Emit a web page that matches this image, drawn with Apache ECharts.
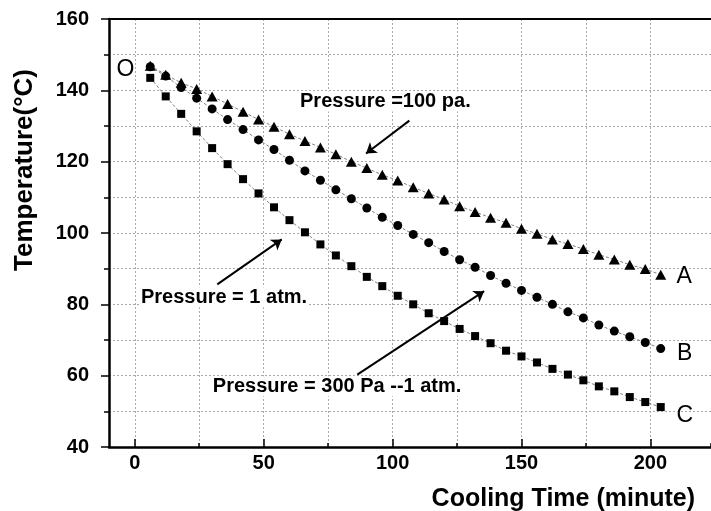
<!DOCTYPE html>
<html>
<head>
<meta charset="utf-8">
<script src="https://cdn.jsdelivr.net/npm/echarts@6/dist/echarts.min.js"></script>
<style>
html,body{margin:0;padding:0;background:#fff;}
#chart{width:711px;height:511px;}
</style>
</head>
<body>
<div id="chart"></div>
<script>
// ---- data ----
const coolingTime = [6,12,18,24,30,36,42,48,54,60,66,72,78,84,90,96,102,108,114,120,126,132,138,144,150,156,162,168,174,180,186,192,198,204];
const tempA = [146.9,144.4,142.1,140.4,138.3,136.2,134.0,131.8,129.8,127.7,125.8,124.0,122.1,120.0,118.2,116.3,114.7,112.8,111.1,109.4,107.5,105.9,104.3,102.9,101.2,99.8,98.2,96.9,95.5,93.9,92.6,91.1,89.9,88.3];
const tempB = [146.6,144.0,140.8,137.8,134.8,131.8,129.0,126.1,123.4,120.4,117.4,114.8,112.1,109.6,107.0,104.4,102.1,99.6,97.3,94.8,92.5,90.4,88.1,85.9,83.9,82.0,80.0,77.9,76.2,74.2,72.5,70.9,69.3,67.6];
const tempC = [143.5,138.3,133.4,128.5,123.8,119.3,115.1,111.1,107.2,103.6,100.2,96.8,93.7,90.7,87.7,85.1,82.4,80.0,77.5,75.3,73.1,71.1,69.1,67.0,65.4,63.7,61.9,60.3,58.7,57.0,55.6,54.0,52.6,51.2];
const seriesNames = ['A','B','C'];
const xTickLabels = [0,50,100,150,200];
const yTickLabels = [40,60,80,100,120,140,160];
const xTitle = 'Cooling Time (minute)';
const yTitle = 'Temperature(°C)';

// annotations (data coordinates)
const noteTexts = ['Pressure =100 pa.', 'Pressure = 1 atm.', 'Pressure = 300 Pa --1 atm.'];
const noteAnchors = [[63.7,136.85],[2.0,82.0],[29.9,57.0]];
const letterTexts = ['O','A','B','C'];
const letterAnchors = [[-3.6,145.8],[213.1,87.9],[213.3,66.3],[213.3,48.9]];
const arrowFrom = [[106.5,131.5],[32.0,85.6],[86.3,60.3]];
const arrowTo = [[89.7,122.3],[57.0,98.2],[135.5,83.7]];

// ---- layout ----
const FONT = '"Liberation Sans", Arial, sans-serif';
const W = 711;
const L = 109, T = 19, B = 64;
const XMIN = -10, XMAX = 223.5;
const L2 = L + (0 - XMIN) * (W - L) / (XMAX - XMIN);
const dotted = {color:'#a8a8a8', width:1, type:[2,2]};

const chart = echarts.init(document.getElementById('chart'), null, {renderer:'canvas'});

function pairs(vals){ return coolingTime.map((t,i)=>[t, vals[i]]); }

const lineStyle = {color:'#808080', width:1, type:[3,2]};

const annotationData = [];
noteTexts.forEach((t,i)=>annotationData.push({
  name:t, coord:noteAnchors[i],
  label:{show:true, position:'right', distance:0, formatter:'{b}', color:'#000',
         fontFamily:FONT, fontWeight:'bold', fontSize:20, backgroundColor:'#fff', padding:[0,1]}
}));
letterTexts.forEach((t,i)=>annotationData.push({
  name:t, coord:letterAnchors[i],
  label:{show:true, position:'inside', formatter:'{b}', color:'#000',
         fontFamily:FONT, fontWeight:'normal', fontSize:23}
}));

const option = {
  animation:false,
  backgroundColor:'#fff',
  grid:[
    {left:L, right:0, top:T, bottom:B},
    {left:L2, right:0, top:T, bottom:B},
    {left:L2, right:0, top:T, bottom:B}
  ],
  xAxis:[
    {gridIndex:0, type:'value', min:XMIN, max:XMAX, position:'bottom',
     axisLine:{show:true, onZero:false, lineStyle:{color:'#000', width:2.5}},
     axisTick:{show:false}, axisLabel:{show:false}, splitLine:{show:false}},
    {gridIndex:0, type:'value', min:XMIN, max:XMAX, position:'top',
     axisLine:{show:true, onZero:false, lineStyle:{color:'#000', width:2}},
     axisTick:{show:false}, axisLabel:{show:false}, splitLine:{show:false}},
    {gridIndex:1, type:'value', min:0, max:XMAX, interval:25, position:'bottom',
     axisLine:{show:false, onZero:false},
     axisTick:{show:true, inside:true, length:4, lineStyle:{color:'#000', width:1.5}},
     axisLabel:{show:false},
     splitLine:{show:true, lineStyle:dotted}},
    {gridIndex:2, type:'value', min:0, max:XMAX, interval:50, position:'bottom',
     axisLine:{show:false, onZero:false},
     axisTick:{show:true, inside:true, length:8, lineStyle:{color:'#000', width:1.5}},
     axisLabel:{show:true, margin:6, color:'#000', fontFamily:FONT, fontWeight:'bold', fontSize:20,
       showMaxLabel:false,
       formatter:(v)=> xTickLabels.indexOf(v) >= 0 ? String(v) : ''},
     splitLine:{show:false}}
  ],
  yAxis:[
    {gridIndex:0, type:'value', min:40, max:160, interval:20,
     axisLine:{show:true, onZero:false, lineStyle:{color:'#000', width:2.5}},
     axisTick:{show:true, inside:false, length:8, lineStyle:{color:'#000', width:1.5}},
     minorTick:{show:true, splitNumber:2, length:5, lineStyle:{color:'#000', width:1.5}},
     axisLabel:{margin:20, color:'#000', fontFamily:FONT, fontWeight:'bold', fontSize:20,
       formatter:(v)=> yTickLabels.indexOf(v) >= 0 ? String(v) : ''},
     splitLine:{show:true, lineStyle:dotted},
     minorSplitLine:{show:true, lineStyle:dotted}},
    {gridIndex:1, type:'value', min:0, max:1, show:false},
    {gridIndex:2, type:'value', min:0, max:1, show:false}
  ],
  series:[
    {name:seriesNames[2], type:'line', xAxisIndex:0, yAxisIndex:0, data:pairs(tempC),
     symbol:'rect', symbolSize:8, showAllSymbol:true,
     itemStyle:{color:'#000'}, lineStyle:lineStyle, z:2},
    {name:seriesNames[1], type:'line', xAxisIndex:0, yAxisIndex:0, data:pairs(tempB),
     symbol:'circle', symbolSize:9, showAllSymbol:true,
     itemStyle:{color:'#000'}, lineStyle:lineStyle, z:3},
    {name:seriesNames[0], type:'line', xAxisIndex:0, yAxisIndex:0, data:pairs(tempA),
     symbol:'triangle', symbolSize:[11,10], showAllSymbol:true,
     itemStyle:{color:'#000'}, lineStyle:lineStyle, z:4,
     markLine:{silent:true, symbol:['none','arrow'], symbolSize:10, animation:false,
       lineStyle:{color:'#000', width:2, type:'solid'}, label:{show:false},
       emphasis:{disabled:true},
       data: arrowFrom.map((f,i)=>[{coord:f}, {coord:arrowTo[i]}])},
     markPoint:{silent:true, symbol:'circle', symbolSize:0, animation:false,
       itemStyle:{color:'transparent'},
       data: annotationData}
    }
  ],
  graphic:[
    {type:'text', x:695, y:499, silent:true,
     style:{text:xTitle, align:'right', verticalAlign:'middle', fill:'#000',
            fontFamily:FONT, fontWeight:'bold', fontSize:25}},
    {type:'text', x:25, y:170, rotation:Math.PI/2, silent:true,
     style:{text:yTitle, align:'center', verticalAlign:'middle', fill:'#000',
            fontFamily:FONT, fontWeight:'bold', fontSize:26}}
  ]
};
chart.setOption(option);
</script>
</body>
</html>
